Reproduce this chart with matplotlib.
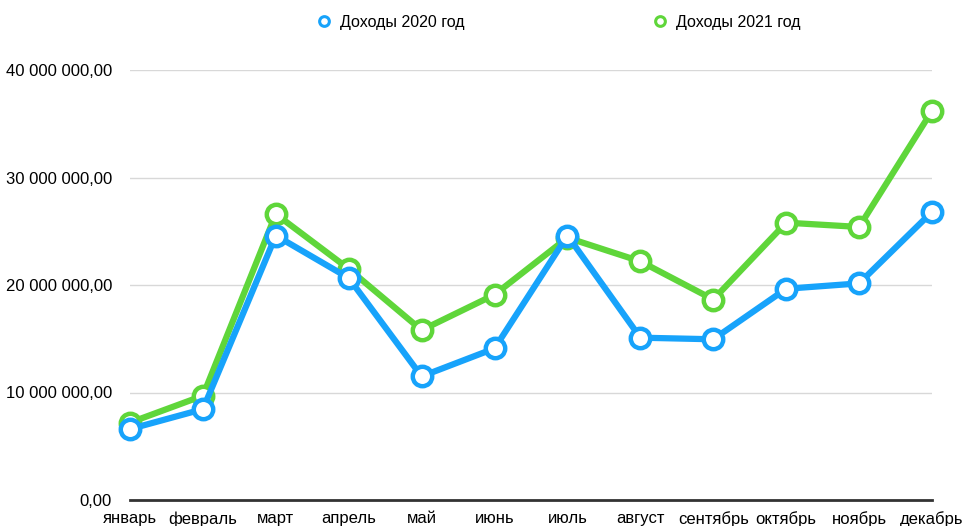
import matplotlib.pyplot as plt
from matplotlib.ticker import FuncFormatter

plt.rcParams["font.family"] = ["Liberation Sans", "DejaVu Sans"]

months = ["январь", "февраль", "март", "апрель", "май", "июнь",
          "июль", "август", "сентябрь", "октябрь", "ноябрь", "декабрь"]
income_2020 = [6.6e6, 8.45e6, 24.6e6, 20.65e6, 11.5e6, 14.1e6,
               24.6e6, 15.1e6, 14.95e6, 19.65e6, 20.15e6, 26.8e6]
income_2021 = [7.2e6, 9.7e6, 26.6e6, 21.5e6, 15.8e6, 19.1e6,
               24.4e6, 22.2e6, 18.65e6, 25.8e6, 25.4e6, 36.2e6]
yticks = [0, 10e6, 20e6, 30e6, 40e6]

blue = "#17a3fb"
green = "#5fd63a"


def fmt(v, pos):
    if v == 0:
        return "0,00"
    s = f"{v:,.2f}".replace(",", " ").replace(".", ",")
    return s


fig = plt.figure(figsize=(9.64, 5.26), dpi=100)
ax = fig.add_axes([130 / 964, 1 - 500 / 526, 802 / 964, 430 / 526])

x = list(range(len(months)))
common = dict(linewidth=4.5, marker="o", markersize=14, markerfacecolor="white",
              markeredgewidth=3.2, clip_on=False, solid_joinstyle="round")
ax.plot(x, income_2021, color=green, label="Доходы 2021 год", zorder=3, **common)
ax.plot(x, income_2020, color=blue, label="Доходы 2020 год", zorder=4, **common)

ax.set_xlim(0, 11)
ax.set_ylim(0, 40e6)
ax.set_yticks(yticks)
ax.yaxis.set_major_formatter(FuncFormatter(fmt))
ax.set_xticks(x)
ax.set_xticklabels(months)
ax.tick_params(length=0, labelsize=12, colors="black")
ax.tick_params(axis="y", pad=13)
ax.tick_params(axis="x", pad=8)
ax.grid(axis="y", color="#d8d8d8", linewidth=1)
ax.set_axisbelow(True)
for s in ["top", "right", "left"]:
    ax.spines[s].set_visible(False)
ax.spines["bottom"].set_color("#333333")
ax.spines["bottom"].set_linewidth(2)
ax.spines["bottom"].set_zorder(2)

# legend: markers only
h2020 = plt.Line2D([], [], color=blue, marker="o", linestyle="none", markersize=7,
                   markerfacecolor="white", markeredgewidth=2.2)
h2021 = plt.Line2D([], [], color=green, marker="o", linestyle="none", markersize=7,
                   markerfacecolor="white", markeredgewidth=2.2)
fig.legend([h2020, h2021], ["Доходы 2020 год", "Доходы 2021 год"], ncol=2,
           loc="center", bbox_to_anchor=(559 / 964, 1 - 22 / 526), frameon=False,
           fontsize=11.5, handlelength=0.8, handletextpad=0.6, columnspacing=11.8)

fig.savefig("out.png", dpi=100)
